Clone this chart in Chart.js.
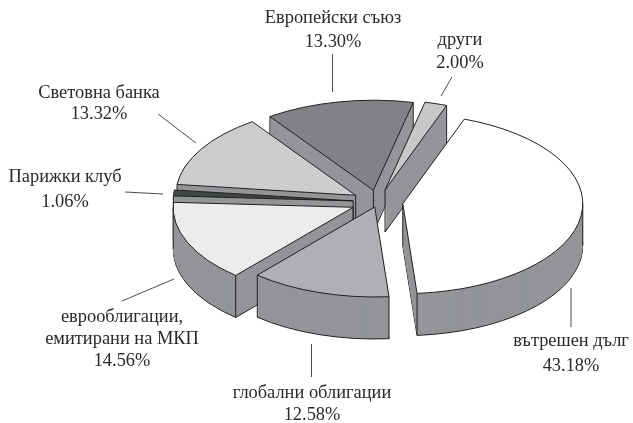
<!DOCTYPE html>
<html>
<head>
<meta charset="utf-8">
<script src="https://cdn.jsdelivr.net/npm/chart.js@4"></script>
<style>html,body{margin:0;padding:0;background:#fff}canvas{display:block}</style>
</head>
<body>
<canvas id="c" width="633" height="423"></canvas>
<script>
const categories = ['вътрешен дълг','глобални облигации','еврооблигации,\nемитирани на МКП','Парижки клуб','Световна банка','Европейски съюз','други'];
const shares = [43.18,12.58,14.56,1.06,13.32,13.30,2.00];
const sliceColors = ['#ffffff','#aeb0b3','#ececed','#3f4545','#cdcdcf','#808285','#c6c8ca'];
const explode = [25,10.5,27,25,26,24,25];
const paintOrder = [5,6,4,3,2,0,1];
const labelAnchors = [[571,346,25],[312,398,22],[122,322,22],[65,182,25],[99,98,21],[333,23,24],[460,45,23]];
const leaders = [[571,288,571,327],[311.5,344,311.5,377],[122,301,174,279],[125,192,163,194],[158,114,196,143],[332.5,54,332.5,92],[452,77,441,96]];
const WALL = '#939598', INK = '#231f20', SOFT = '#4d4b4c', SQUASH = 0.5, DEPTH = 42, FONT = '18.4px "Liberation Serif"';

function paintArc(ctx, el, fill, lined) {
  const p = Object.create(el);
  p.options = {backgroundColor: fill, borderColor: INK, borderWidth: lined ? 1 : 0, borderAlign: 'center',
    borderJoinStyle: 'miter', borderDash: [], borderDashOffset: 0, offset: 0, spacing: 0, circular: true,
    borderRadius: 0, selfJoin: false};
  p.draw(ctx);
}
const faces = a => Math.sin(a) > 1e-6;
const pie3d = {
  id: 'pie3d',
  beforeDatasetDraw() { return false; },
  beforeDatasetsDraw(chart) {
    const ctx = chart.ctx, arcs = chart.getDatasetMeta(0).data;
    const rawStroke = ctx.stroke;
    ctx.stroke = function () { ctx.save(); ctx.setTransform(1,0,0,1,0,0); rawStroke.call(ctx); ctx.restore(); };
    paintOrder.forEach(i => {
      const el = arcs[i], mid = (el.startAngle + el.endAngle) / 2, e = explode[i];
      const dx = Math.cos(mid) * e, dy = Math.sin(mid) * e;
      const place = d => { ctx.save(); ctx.translate(dx, el.y + dy * SQUASH + d); ctx.scale(1, SQUASH); ctx.translate(0, -el.y); };
      place(DEPTH); paintArc(ctx, el, WALL, true); ctx.restore();
      for (let d = DEPTH - 1; d > 0; d--) { place(d); paintArc(ctx, el, WALL, false); ctx.restore(); }
      const startN = el.startAngle - Math.PI / 2, endN = el.endAngle + Math.PI / 2;
      const corners = [];
      if (faces(startN) || faces(endN)) corners.push(null);
      if (faces(startN) || faces(el.startAngle)) corners.push(el.startAngle);
      if (faces(endN) || faces(el.endAngle)) corners.push(el.endAngle);
      for (let k = -2; k <= 4; k++) {
        const a = k * Math.PI;
        if (a > el.startAngle && a < el.endAngle) corners.push(a);
      }
      ctx.save();
      ctx.strokeStyle = INK; ctx.lineWidth = 1;
      corners.forEach(a => {
        const r = a === null ? 0 : el.outerRadius, t = a === null ? 0 : a;
        const x = el.x + dx + r * Math.cos(t), y = el.y + (dy + r * Math.sin(t)) * SQUASH;
        ctx.beginPath(); ctx.moveTo(x, y); ctx.lineTo(x, y + DEPTH); rawStroke.call(ctx);
      });
      ctx.restore();
      place(0); paintArc(ctx, el, sliceColors[i], true); ctx.restore();
    });
    delete ctx.stroke;
  },
  afterDraw(chart) {
    const ctx = chart.ctx;
    ctx.save();
    ctx.strokeStyle = SOFT; ctx.lineWidth = 1;
    leaders.forEach(l => { ctx.beginPath(); ctx.moveTo(l[0], l[1]); ctx.lineTo(l[2], l[3]); ctx.stroke(); });
    ctx.fillStyle = '#2b2829'; ctx.font = FONT; ctx.textAlign = 'center'; ctx.textBaseline = 'alphabetic';
    categories.forEach((c, i) => {
      const lines = c.split('\n').concat(shares[i].toFixed(2) + '%');
      const [x, y, lh] = labelAnchors[i];
      lines.forEach((t, n) => ctx.fillText(t, x, y + n * lh));
    });
    ctx.restore();
  }
};
new Chart(document.getElementById('c'), {
  type: 'pie',
  data: {labels: categories, datasets: [{data: shares, backgroundColor: sliceColors, radius: 180, borderWidth: 0}]},
  options: {
    responsive: false, animation: false, events: [], rotation: 20,
    layout: {padding: {left: 123, right: 0, top: 0, bottom: 19}},
    plugins: {legend: {display: false}, tooltip: {enabled: false}, title: {display: false}}
  },
  plugins: [pie3d]
});
</script>
</body>
</html>
